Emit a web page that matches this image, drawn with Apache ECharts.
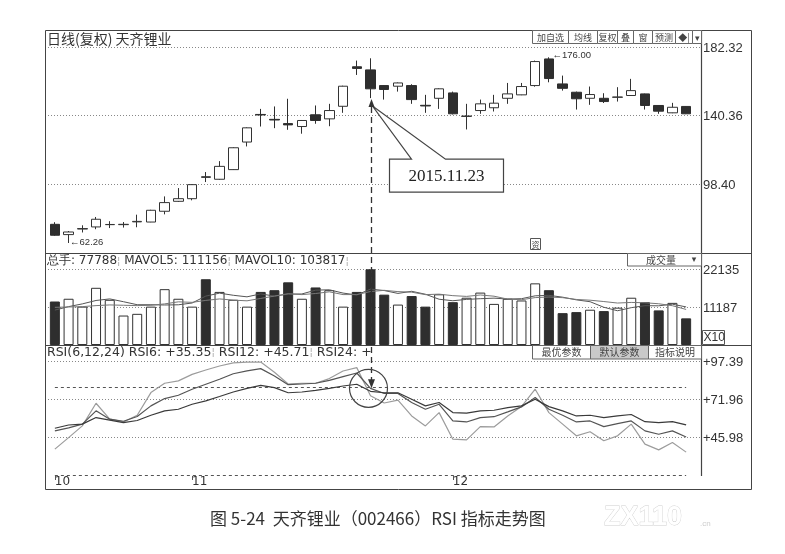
<!DOCTYPE html>
<html><head><meta charset="utf-8">
<script src="https://cdn.jsdelivr.net/npm/echarts@6/dist/echarts.min.js"></script>
<style>html,body{margin:0;padding:0;background:#fff}#c{width:785px;height:554px}</style>
</head><body><div id="c"></div>
<script>
// ---------- data ----------
const categories = Array.from({length: 47}, (_, i) => 'd' + (i + 1));
const monthTicks = {0: '10', 10: '11', 29: '12'};
const open  = [73.7,67.4,70.8,72.1,73.5,73.5,75.2,75.1,81.7,87.8,89.4,102.8,101.3,107.2,124.1,141.0,138.0,135.4,133.6,140.8,138.3,146.0,170.2,168.3,158.7,158.3,158.7,146.6,150.9,154.2,139.8,143.4,145.1,150.9,153.0,158.7,175.0,159.7,154.6,150.9,150.9,151.5,152.6,153.6,146.5,142.0,145.9];
const close = [67.0,69.0,71.1,76.8,73.6,73.7,75.5,82.3,87.0,89.4,98.0,102.5,109.2,120.6,132.8,140.7,137.6,134.6,137.3,137.3,143.4,158.3,169.2,156.7,156.3,160.3,150.1,146.2,156.7,141.4,140.0,147.5,147.9,153.6,158.1,173.4,163.0,157.0,150.6,153.2,148.9,151.7,155.6,146.5,143.0,145.4,141.4];
const low   = [66.6,62.26,68.7,70.7,71.4,71.7,71.9,75.0,79.8,87.4,88.4,99.6,101.0,107.0,121.4,133.6,132.6,131.6,129.2,135.3,133.8,142.0,165.2,151.0,150.1,155.0,147.5,142.0,144.4,141.0,131.8,141.4,142.8,147.5,152.8,158.0,160.7,155.6,144.0,146.9,148.0,148.9,152.3,144.0,141.4,141.8,141.2];
const high  = [75.0,69.6,73.1,78.2,75.6,75.1,79.6,82.6,90.8,95.9,98.3,105.7,112.4,120.9,133.1,144.4,145.9,150.6,137.6,146.5,147.5,158.6,174.0,175.4,159.0,160.6,159.5,153.0,157.0,155.0,147.5,150.1,153.0,160.3,160.3,174.0,176.0,164.8,155.0,158.1,154.0,157.7,162.8,153.8,146.7,148.1,146.1];
const volume = [12700,13500,11200,16700,13200,8600,9100,11200,16300,13500,11200,19200,15500,13200,11200,15500,16000,18300,13500,16800,16000,11200,15500,22100,14700,11800,14300,11200,14800,12500,13800,15300,12000,13500,13000,18000,16000,9300,9600,10300,9900,10900,13800,12500,10100,12300,7779];
const mavol5 = [10200,11200,12000,13000,13460,12640,11760,11760,11680,11740,12260,14280,15140,14520,14060,14920,14280,14840,14900,16020,16120,15160,14600,16320,15900,15060,15680,14820,13360,12920,13320,13520,13680,13420,13520,14360,14500,13960,13180,12640,11020,10000,10900,11480,11440,11920,11116];
const mavol10 = [11000,11100,11200,11500,11700,11600,11500,11600,12000,12600,12450,13020,13450,13100,12900,13590,14280,14990,14710,15040,15520,14720,14720,15610,15960,15590,15420,14710,14840,14410,14190,14600,14250,13390,13220,13840,14010,13820,13300,13080,12690,12250,12430,12330,12040,11470,10382];
const rsi6  = [37.4,45.3,53.3,68.8,57.9,56.0,60.6,76.1,82.5,84.1,88.6,91.6,94.3,96.5,97.0,97.0,90.0,82.0,82.5,82.5,85.7,90.9,93.2,74.0,69.0,71.0,60.1,53.3,62.4,44.2,43.7,52.8,52.6,60.1,66.5,78.4,62.4,54.5,46.5,49.3,43.1,46.5,54.5,40.8,36.9,41.9,35.35];
const rsi12 = [49.9,52.0,54.5,63.6,57.9,56.5,59.7,67.0,72.0,74.3,78.4,81.8,85.2,89.0,91.0,92.5,87.5,81.5,82.0,82.5,84.5,87.0,89.5,79.0,75.5,75.5,69.3,64.7,68.1,56.7,56.0,59.0,59.6,62.9,66.3,72.7,64.7,60.6,56.0,56.7,52.8,54.9,56.7,49.9,47.6,49.9,45.71];
const rsi24 = [51.7,53.9,54.5,59.0,57.3,55.6,57.0,60.6,63.6,64.7,68.1,70.4,73.4,76.5,79.0,81.0,79.5,76.0,76.5,77.6,79.0,80.6,81.8,77.0,76.0,76.0,71.5,67.0,69.3,62.4,62.0,63.6,64.0,65.8,67.0,71.5,66.5,63.6,60.1,60.6,59.0,60.1,61.1,56.2,55.6,56.2,54.0];
const priceTicks = [98.40, 140.36, 182.32];
const volTicks = [11187, 22135];
const rsiTicks = [45.98, 71.96, 97.39];
const rsiBands = [20, 80];
const markedDay = 23;
const markedLabel = '2015.11.23';

// ---------- chart ----------
const INK = '#333';
const chart = echarts.init(document.getElementById('c'));
const isUp = close.map((c, i) => c >= open[i]);
const hideAxis = {axisLine:{show:false}, axisTick:{show:false}, axisLabel:{show:false}, splitLine:{show:false}};

const option = {
  animation: false,
  backgroundColor: '#fff',
  textStyle: {fontFamily: '"DejaVu Sans", sans-serif'},
  grid: [
    {left: 48, right: 92, top: 30, height: 223},
    {left: 48, right: 92, top: 253, height: 92},
    {left: 48, right: 92, top: 346, height: 130}
  ],
  xAxis: [0, 1, 2].map(g => Object.assign({type: 'category', gridIndex: g, data: categories, boundaryGap: true}, hideAxis)),
  yAxis: [
    Object.assign({type: 'value', gridIndex: 0, min: 56.13, max: 192.73}, hideAxis),
    Object.assign({type: 'value', gridIndex: 1, min: 0, max: 26860}, hideAxis),
    Object.assign({type: 'value', gridIndex: 2, min: 19, max: 108}, hideAxis)
  ],
  series: [
    {
      type: 'candlestick', xAxisIndex: 0, yAxisIndex: 0, barWidth: 10, z: 3,
      data: open.map((o, i) => [o, close[i], low[i], high[i]]),
      itemStyle: {color: '#fff', color0: '#2e2e2e', borderColor: INK, borderColor0: '#2e2e2e', borderWidth: 1},
      markPoint: {
        symbol: 'circle', symbolSize: 1, itemStyle: {color: 'rgba(0,0,0,0)'},
        label: {show: true, position: 'right', distance: 1, color: INK, fontSize: 9.5, fontFamily: '"Liberation Sans"',
          formatter: p => '\u2190' + p.value.toFixed(2)},
        data: [
          {coord: [categories[1], low[1]], value: low[1], label: {offset: [0, -1]}},
          {coord: [categories[36], high[36]], value: high[36], label: {offset: [2, -2]}}
        ]
      }
    },
    {
      type: 'bar', xAxisIndex: 1, yAxisIndex: 1, barWidth: 10, z: 2,
      data: volume.map((v, i) => ({value: v, itemStyle: isUp[i]
        ? {color: '#fff', borderColor: INK, borderWidth: 1}
        : {color: '#2e2e2e', borderColor: '#2e2e2e', borderWidth: 1}}))
    },
    {type: 'line', xAxisIndex: 1, yAxisIndex: 1, data: mavol5, symbol: 'none', z: 4, lineStyle: {color: '#555', width: 1}},
    {type: 'line', xAxisIndex: 1, yAxisIndex: 1, data: mavol10, symbol: 'none', z: 4, lineStyle: {color: '#777', width: 1}},
    {type: 'line', xAxisIndex: 2, yAxisIndex: 2, data: rsi6, symbol: 'none', z: 4, lineStyle: {color: '#9c9c9c', width: 1.2}},
    {type: 'line', xAxisIndex: 2, yAxisIndex: 2, data: rsi12, symbol: 'none', z: 4, lineStyle: {color: '#555', width: 1.2}},
    {type: 'line', xAxisIndex: 2, yAxisIndex: 2, data: rsi24, symbol: 'none', z: 4, lineStyle: {color: '#3a3a3a', width: 1.2}}
  ]
};
// month labels on RSI x axis
option.xAxis[2].axisLabel = {show: true, interval: (i) => monthTicks[i] !== undefined,
  formatter: (v, i) => monthTicks[i] || '', align: 'left', margin: 0, color: INK, fontSize: 12, fontFamily: '"DejaVu Sans"'};
option.xAxis[2].axisTick = {show: true, interval: (i) => monthTicks[i] !== undefined, alignWithLabel: true, length: 4, lineStyle: {color: '#555'}};
chart.setOption(option);

// ---------- overlays positioned through the chart's scales ----------
const els = [];
const yPx = (ax, v) => chart.convertToPixel({yAxisIndex: ax}, v);
const ptPx = (g, i, v) => chart.convertToPixel({gridIndex: g}, [categories[i], v]);
const L = (x1, y1, x2, y2, o) => els.push({type: 'line', z: (o && o.z) || 0, silent: true, shape: {x1, y1, x2, y2},
  style: {stroke: (o && o.stroke) || '#444', lineWidth: (o && o.w) || 1, lineDash: (o && o.dash) || null}});
const T = (x, y, t, font, o, z) => els.push({type: 'text', z: z || 60, silent: true, x, y, style: Object.assign({text: t, font,
  fill: INK, textAlign: 'left', align: 'left', textVerticalAlign: 'middle', verticalAlign: 'middle'}, o || {})});
const R = (x, y, w, h, fill, stroke, z) => els.push({type: 'rect', z: z || 55, silent: true, shape: {x, y, width: w, height: h},
  style: {fill, stroke: stroke || '#555', lineWidth: 1}});
const AX = '13px "Liberation Sans"';
const CJK = '"Noto Sans CJK SC"';
const DOT = {stroke: '#888', dash: [1, 2], w: 1};

priceTicks.forEach(v => { const y = Math.round(yPx(0, v)) + 0.5; L(45, y, 701, y, DOT); T(703, y + 1, v.toFixed(2), AX); });
volTicks.forEach(v => { const y = Math.round(yPx(1, v)) + 0.5; L(45, y, 701, y, DOT); T(703, y + 1, String(v), AX); });
rsiTicks.forEach(v => { const y = Math.round(yPx(2, v)) + 0.5; L(45, y, 701, y, DOT); T(703, y + 1, '+' + v.toFixed(2), AX); });
rsiBands.forEach(v => {
  const a = ptPx(2, 0, v), b = ptPx(2, categories.length - 1, v);
  const y = Math.round(a[1]) + 0.5;
  L(a[0], y, b[0], y, {stroke: '#555', dash: [3, 3], w: 1});
});

// frame
R(45.5, 30.5, 706, 459, 'none', '#444', 40);
L(701.5, 30, 701.5, 476, {z: 40, stroke: '#444', w: 1.2});
L(45, 253.5, 751, 253.5, {z: 40, stroke: '#444', w: 1.2});
L(45, 345.5, 751, 345.5, {z: 40, stroke: '#444', w: 1.2});

// panel titles
T(47, 38.5, '日线(复权) 天齐锂业', '14px ' + CJK);
const sepRich = {t: {font: '12px "DejaVu Sans"', fill: INK}, s: {font: '10px "DejaVu Sans"', fill: '#aaa'}};
const sepRich2 = {t: {font: '12.5px "DejaVu Sans"', fill: INK}, s: {font: '10px "DejaVu Sans"', fill: '#aaa'}};
T(47, 261, '{t|总手: 77788}{s|¦} {t|MAVOL5: 111156}{s|¦} {t|MAVOL10: 103817}{s|¦}', '12px "DejaVu Sans"', {rich: sepRich});
T(47, 352.5, '{t|RSI(6,12,24) RSI6: +35.35}{s|¦} {t|RSI12: +45.71}{s|¦} {t|RSI24: +}', '12.5px "DejaVu Sans"', {rich: sepRich2});

// toolbar buttons
[[532, 568, '加自选'], [568, 597, '均线'], [597, 617, '复权'], [617, 633, '叠'], [633, 652, '窗'], [652, 675, '预测'], [675, 692, '◆|'], [692, 701, '▾']]
  .forEach(([a, b, t]) => { R(a + 0.5, 30.5, b - a, 13, '#fff', '#666'); T((a + b) / 2 + 0.5, 37.5, t, '9px ' + CJK, {textAlign: 'center', align: 'center', fill: '#444'}); });
R(627.5, 253.5, 74, 12.5, '#fff', '#666');
T(661, 260, '成交量', '10px ' + CJK, {textAlign: 'center', align: 'center', fill: '#444'});
T(694, 259.5, '▾', '9px "DejaVu Sans"', {textAlign: 'center', align: 'center', fill: '#444'});
R(702.5, 330.5, 22, 14, '#fff', '#555');
T(703.5, 338, 'X10', '12px "Liberation Sans"');
[[532, 590, '最优参数', '#fff'], [590, 648, '默认参数', '#c9c9c9'], [648, 701, '指标说明', '#fff']]
  .forEach(([a, b, t, f]) => { R(a + 0.5, 345.5, b - a, 13.5, f, '#666'); T((a + b) / 2 + 0.5, 352.5, t, '10px ' + CJK, {textAlign: 'center', align: 'center', fill: '#444'}); });
R(530.5, 238.5, 10, 11, '#fff', '#555');
T(535.5, 244.5, '资', '8px ' + CJK, {textAlign: 'center', align: 'center', fill: '#444'});

// callout for the marked day
const tip = ptPx(0, markedDay, low[markedDay]);
const tx = Math.round(tip[0]) + 0.5, ty = tip[1] + 1;
const bl = tx + 18, br = tx + 132, bt = ty + 60, bb = ty + 93;
els.push({type: 'polygon', z: 70, silent: true, shape: {points: [[bl, bt], [tx + 40, bt], [tx + 1, ty + 7], [tx + 74, bt], [br, bt], [br, bb], [bl, bb]]},
  style: {fill: '#fff', stroke: '#444', lineWidth: 1.2}});
T((bl + br) / 2, (bt + bb) / 2 + 1, markedLabel, '17px "Liberation Serif"', {textAlign: 'center', align: 'center', fill: '#222'}, 80);
els.push({type: 'polygon', z: 71, silent: true, shape: {points: [[tx, ty], [tx - 3, ty + 8], [tx + 3, ty + 8]]}, style: {fill: '#333'}});
const rTip = yPx(2, rsi12[markedDay]);
L(tx, ty + 8, tx, rTip - 8, {z: 65, stroke: '#333', w: 1.3, dash: [6, 4]});
els.push({type: 'polygon', z: 71, silent: true, shape: {points: [[tx, rTip], [tx - 3.5, rTip - 9], [tx + 3.5, rTip - 9]]}, style: {fill: '#333'}});
els.push({type: 'circle', z: 71, silent: true, shape: {cx: tx - 3, cy: rTip, r: 19}, style: {fill: 'none', stroke: '#444', lineWidth: 1.2}});

// caption and watermark
T(210, 519, '图 5-24  天齐锂业（002466）RSI 指标走势图', '17px ' + CJK, {fill: '#333'});
T(604, 518, 'ZX110', 'bold 27px "Liberation Sans"', {fill: '#fff', stroke: '#d0d0d0', lineWidth: 0.8});
T(700, 524, '.cn', '8px "Liberation Sans"', {fill: '#ccc'});

chart.setOption({graphic: {elements: els}});
</script>
</body></html>
